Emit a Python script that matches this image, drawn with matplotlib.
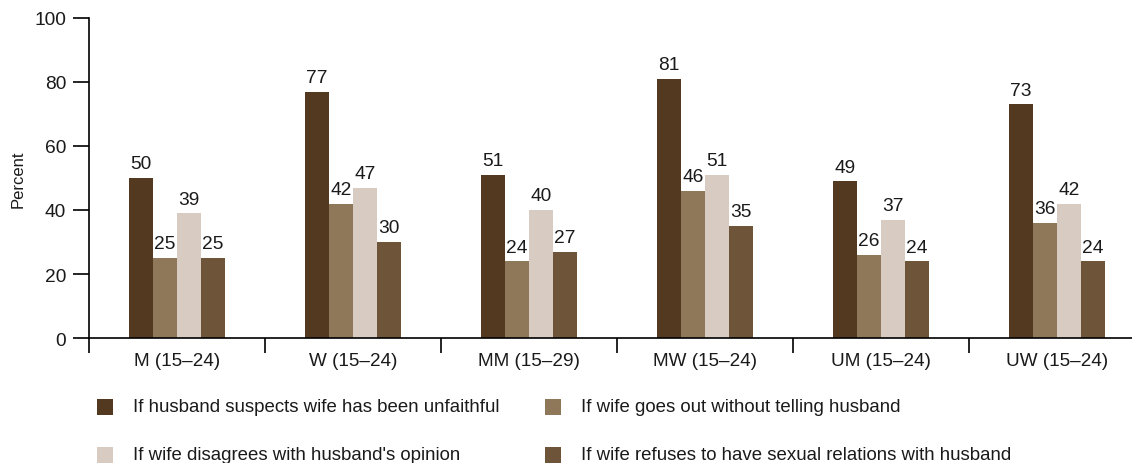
import matplotlib
matplotlib.use("Agg")
import matplotlib.pyplot as plt
from matplotlib.patches import Rectangle
import numpy as np

plt.rcParams['font.family'] = ['Liberation Sans', 'DejaVu Sans']

categories = ["M (15\u201324)", "W (15\u201324)", "MM (15\u201329)",
              "MW (15\u201324)", "UM (15\u201324)", "UW (15\u201324)"]
series_labels = [
    "If husband suspects wife has been unfaithful",
    "If wife goes out without telling husband",
    "If wife disagrees with husband's opinion",
    "If wife refuses to have sexual relations with husband",
]
unfaithful = [50, 77, 51, 81, 49, 73]
goes_out = [25, 42, 24, 46, 26, 36]
disagrees = [39, 47, 40, 51, 37, 42]
refuses_sex = [25, 30, 27, 35, 24, 24]
y_ticks = [0, 20, 40, 60, 80, 100]

series = [unfaithful, goes_out, disagrees, refuses_sex]
colors = ["#523920", "#8f775a", "#d8ccc2", "#6e5438"]
text_color = "#1a1a1a"

W, H = 1132, 464
fig = plt.figure(figsize=(W / 100, H / 100), dpi=100)
# axes run past the right edge of the figure
left, right, top, bottom = 89, 1145, 19, 339
ax = fig.add_axes([left / W, 1 - bottom / H, (right - left) / W, (bottom - top) / H])

n = len(categories)
x = np.arange(n) + 0.5
bw = 24 / 176
for i, (vals, c) in enumerate(zip(series, colors)):
    bars = ax.bar(x + (i - 1.5) * bw, vals, width=bw, color=c, linewidth=0)
    ax.bar_label(bars, labels=[str(v) for v in vals], padding=4,
                 fontsize=13.8, color=text_color)

ax.set_xlim(0, n)
ax.set_ylim(0, 100)
ax.set_yticks(y_ticks)
ax.set_yticklabels([str(t) for t in y_ticks], fontsize=13.8, color=text_color)
ax.set_xticks(np.arange(n + 1))
ax.set_xticklabels([])
ax.set_xticks(x, minor=True)
ax.set_xticklabels(categories, minor=True, fontsize=13.6, color=text_color)
ax.tick_params(axis="y", length=11.5, width=1.2, direction="out", pad=5)
ax.tick_params(axis="x", which="major", length=11, width=1.2, direction="out")
ax.tick_params(axis="x", which="minor", length=0, pad=10)
for s in ["top", "right"]:
    ax.spines[s].set_visible(False)
for s in ["left", "bottom"]:
    ax.spines[s].set_linewidth(1.2)
ax.set_ylabel("Percent", fontsize=12, labelpad=6, color=text_color)

# legend in two columns
sq = 16
positions = [(97, 400), (545, 400), (97, 448), (545, 448)]
for (px, py), lab, c in zip(positions, series_labels, colors):
    fig.add_artist(Rectangle((px / W, 1 - (py + sq) / H), sq / W, sq / H,
                             transform=fig.transFigure, color=c, linewidth=0))
    fig.text((px + 36) / W, 1 - (py + sq / 2) / H, lab, fontsize=13.4,
             va="center", ha="left", color=text_color)

fig.savefig("out.png", dpi=100)
